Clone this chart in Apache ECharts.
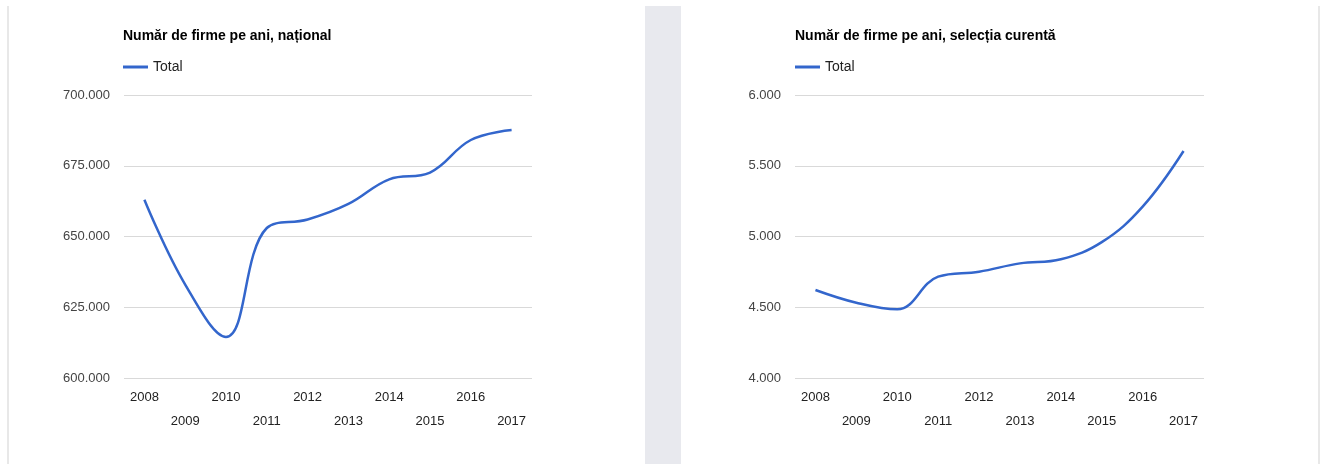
<!DOCTYPE html>
<html>
<head>
<meta charset="utf-8">
<script src="https://cdn.jsdelivr.net/npm/echarts@6/dist/echarts.min.js"></script>
<style>
  html, body { margin: 0; padding: 0; background: #fff; }
  #main { width: 1325px; height: 464px; }
</style>
</head>
<body>
<div id="main"></div>
<script>
var years = ["2008", "2009", "2010", "2011", "2012", "2013", "2014", "2015", "2016", "2017"];
var nationalValues = [663000, 633000, 614500, 653000, 656000, 661500, 670200, 672600, 684100, 687600];
var selectionValues = [4622, 4532, 4485, 4716, 4751, 4810, 4839, 4960, 5211, 5604];
var nationalTicks = [600000, 700000, 25000];
var selectionTicks = [4000, 6000, 500];

var chartDom = document.getElementById("main");
var myChart = echarts.init(chartDom);
var font = "Liberation Sans, Arial, sans-serif";

function fmt(v) {
  return String(v).replace(/\B(?=(\d{3})+(?!\d))/g, ".");
}

function xAxisFor(gridIndex) {
  return {
    type: "category",
    gridIndex: gridIndex,
    data: years,
    boundaryGap: true,
    axisLine: { show: false },
    axisTick: { show: false },
    splitLine: { show: false },
    axisLabel: {
      interval: 0,
      margin: 7,
      color: "#222",
      fontFamily: font,
      fontSize: 13,
      lineHeight: 24,
      formatter: function (value, index) {
        return index % 2 === 1 ? "\n" + value : value;
      },
    },
  };
}

function yAxisFor(gridIndex, ticks) {
  return {
    type: "value",
    gridIndex: gridIndex,
    min: ticks[0],
    max: ticks[1],
    interval: ticks[2],
    axisLine: { show: false },
    axisTick: { show: false },
    splitLine: { lineStyle: { color: "#d9d9d9", width: 1 } },
    axisLabel: {
      margin: 14,
      color: "#444",
      fontFamily: font,
      fontSize: 13,
      formatter: fmt,
    },
  };
}

var option = {
  animation: false,
  backgroundColor: "#fff",
  graphic: [
    { type: "rect", shape: { x: 7, y: 6, width: 2, height: 458 }, style: { fill: "#e8e8e8" } },
    { type: "rect", shape: { x: 645, y: 6, width: 36, height: 458 }, style: { fill: "#e8e9ee" } },
    { type: "rect", shape: { x: 1318, y: 6, width: 2, height: 458 }, style: { fill: "#e8e8e8" } },
  ],
  title: [
    {
      text: "Număr de firme pe ani, național",
      left: 118,
      top: 24,
      textStyle: { fontFamily: font, fontSize: 14, fontWeight: "bold", color: "#000" },
    },
    {
      text: "Număr de firme pe ani, selecția curentă",
      left: 790,
      top: 24,
      textStyle: { fontFamily: font, fontSize: 14, fontWeight: "bold", color: "#000" },
    },
  ],
  legend: [
    {
      data: ["Total"],
      left: 118,
      top: 55,
      icon: "rect",
      itemWidth: 25,
      itemHeight: 3,
      itemGap: 7,
      textStyle: { fontFamily: font, fontSize: 14, color: "#222" },
    },
    {
      data: ["Total "],
      left: 790,
      top: 55,
      icon: "rect",
      itemWidth: 25,
      itemHeight: 3,
      itemGap: 7,
      formatter: function () { return "Total"; },
      textStyle: { fontFamily: font, fontSize: 14, color: "#222" },
    },
  ],
  grid: [
    { left: 124, top: 95, width: 408, height: 283 },
    { left: 795, top: 95, width: 409, height: 283 },
  ],
  xAxis: [xAxisFor(0), xAxisFor(1)],
  yAxis: [yAxisFor(0, nationalTicks), yAxisFor(1, selectionTicks)],
  series: [
    {
      name: "Total",
      type: "line",
      xAxisIndex: 0,
      yAxisIndex: 0,
      data: nationalValues,
      smooth: 0.4,
      showSymbol: false,
      symbol: "none",
      itemStyle: { color: "#3366cc" },
      lineStyle: { color: "#3366cc", width: 2.5 },
    },
    {
      name: "Total ",
      type: "line",
      xAxisIndex: 1,
      yAxisIndex: 1,
      data: selectionValues,
      smooth: 0.4,
      showSymbol: false,
      symbol: "none",
      itemStyle: { color: "#3366cc" },
      lineStyle: { color: "#3366cc", width: 2.5 },
    },
  ],
};
option && myChart.setOption(option);
</script>
</body>
</html>
